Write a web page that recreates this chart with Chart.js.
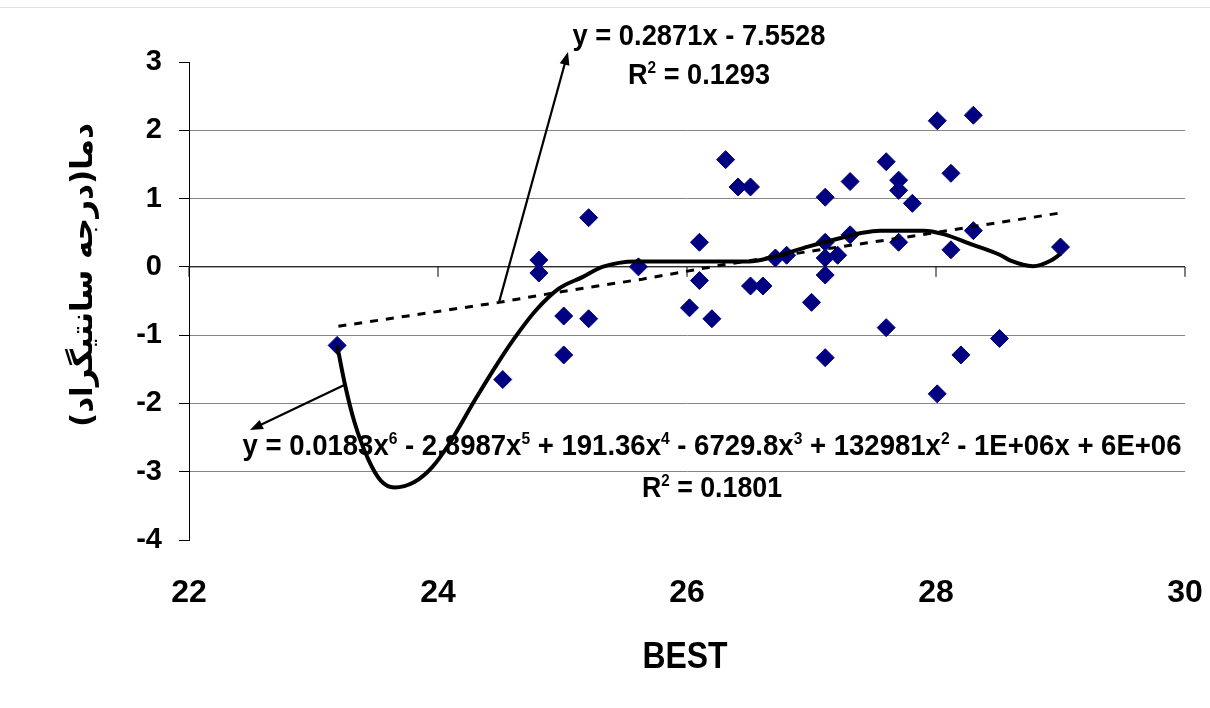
<!DOCTYPE html>
<html>
<head>
<meta charset="utf-8">
<script src="https://cdn.jsdelivr.net/npm/chart.js@4"></script>
<style>
  html, body { margin: 0; padding: 0; background: #fff; }
  #wrap { position: relative; width: 1210px; height: 708px; }
  #topRule { position: absolute; left: 0; top: 7px; width: 1210px; height: 1px; background: #e2e2e2; }
</style>
</head>
<body>
<div id="wrap">
  <div id="topRule"></div>
  <canvas id="chart"></canvas>
</div>
<script>
// scatter values
const bestX = [23.19, 24.52, 24.81, 24.81, 25.01, 25.01, 25.21, 25.21, 25.61, 26.02, 26.10, 26.10,
  26.20, 26.31, 26.41, 26.51, 26.51, 26.61, 26.71, 26.80, 27.00, 27.11, 27.11, 27.11, 27.11, 27.11,
  27.21, 27.31, 27.31, 27.60, 27.60, 27.70, 27.70, 27.70, 27.81, 28.01, 28.01, 28.12, 28.12, 28.20,
  28.30, 28.30, 28.51, 29.00];
const tempY = [-1.15, -1.65, 0.10, -0.09, -0.72, -1.29, 0.72, -0.76, 0.00, -0.60, 0.36, -0.20,
  -0.76, 1.57, 1.17, 1.17, -0.28, -0.28, 0.13, 0.17, -0.52, 1.02, 0.36, 0.13, -0.12, -1.33,
  0.17, 1.25, 0.47, 1.54, -0.89, 1.27, 1.12, 0.36, 0.93, 2.14, -1.86, 1.37, 0.25, -1.29,
  2.22, 0.53, -1.05, 0.29];

// linear trendline (dotted)
const linTrendX = [23.2, 24.49, 25.0, 25.64, 26.29, 27.03, 27.74, 28.27, 29.0];
const linTrendY = [-0.87, -0.52, -0.36, -0.18, 0.03, 0.24, 0.43, 0.58, 0.79];

// 6th order polynomial trendline (solid)
const polyTrendX = [23.19, 23.25, 23.33, 23.44, 23.54, 23.65, 23.81, 23.95, 24.08, 24.30, 24.48,
  24.62, 24.78, 24.97, 25.16, 25.32, 25.59, 25.96, 26.50, 26.66, 26.98, 27.25, 27.41, 27.55,
  27.90, 28.06, 28.27, 28.52, 28.60, 28.78, 28.92, 29.00];
const polyTrendY = [-1.15, -1.70, -2.28, -2.82, -3.13, -3.23, -3.15, -2.94, -2.62, -1.94, -1.41,
  -1.03, -0.65, -0.32, -0.15, 0.00, 0.08, 0.08, 0.08, 0.13, 0.30, 0.43, 0.50, 0.53,
  0.53, 0.48, 0.34, 0.17, 0.09, 0.01, 0.09, 0.19];

const xTicks = [22, 24, 26, 28, 30];
const yTicks = [3, 2, 1, 0, -1, -2, -3, -4];

const xTitle = "BEST";
const yTitle = "دما(درجه سانتیگراد)";
const linEquation = [["y = 0.2871x - 7.5528", 0]];
const linR2 = [["R", 0], ["2", 1], [" = 0.1293", 0]];
const polyEquation = [["y = 0.0183x", 0], ["6", 1], [" - 2.8987x", 0], ["5", 1], [" + 191.36x", 0], ["4", 1],
  [" - 6729.8x", 0], ["3", 1], [" + 132981x", 0], ["2", 1], [" - 1E+06x + 6E+06", 0]];
const polyR2 = [["R", 0], ["2", 1], [" = 0.1801", 0]];

const toPoints = (xs, ys) => xs.map((x, i) => ({ x: x, y: ys[i] }));
const FONT = '"Liberation Sans", Arial, sans-serif';

function drawRich(ctx, parts, cx, baseline, size, width) {
  ctx.save();
  const font = (sup) => `bold ${sup ? Math.round(size * 0.58) : size}px ${FONT}`;
  let total = 0;
  parts.forEach(([t, sup]) => { ctx.font = font(sup); total += ctx.measureText(t).width; });
  const sx = width / total;
  ctx.translate(cx, baseline);
  ctx.scale(sx, 1);
  ctx.fillStyle = "#000";
  ctx.textAlign = "left";
  ctx.textBaseline = "alphabetic";
  let x = -total / 2;
  parts.forEach(([t, sup]) => {
    ctx.font = font(sup);
    ctx.fillText(t, x, sup ? -size * 0.36 : 0);
    x += ctx.measureText(t).width;
  });
  ctx.restore();
}

function drawArrow(ctx, x1, y1, x2, y2) {
  const a = Math.atan2(y2 - y1, x2 - x1);
  ctx.save();
  ctx.strokeStyle = "#000";
  ctx.fillStyle = "#000";
  ctx.lineWidth = 2.2;
  ctx.beginPath();
  ctx.moveTo(x1, y1);
  ctx.lineTo(x2 - Math.cos(a) * 8, y2 - Math.sin(a) * 8);
  ctx.stroke();
  ctx.beginPath();
  ctx.moveTo(x2, y2);
  ctx.lineTo(x2 - Math.cos(a) * 13 + Math.sin(a) * 5, y2 - Math.sin(a) * 13 - Math.cos(a) * 5);
  ctx.lineTo(x2 - Math.cos(a) * 13 - Math.sin(a) * 5, y2 - Math.sin(a) * 13 + Math.cos(a) * 5);
  ctx.closePath();
  ctx.fill();
  ctx.restore();
}

// x axis crossing at y = 0, trendline labels, arrows, axis titles
const overlay = {
  id: "overlay",
  beforeDatasetsDraw(chart) {
    const { ctx, scales: { x, y }, chartArea } = chart;
    const y0 = y.getPixelForValue(0);
    ctx.save();
    ctx.strokeStyle = "#000";
    ctx.lineWidth = 1;
    ctx.beginPath();
    ctx.moveTo(chartArea.left, y0);
    ctx.lineTo(chartArea.right, y0);
    xTicks.forEach((v) => {
      const px = x.getPixelForValue(v);
      ctx.moveTo(px, y0);
      ctx.lineTo(px, y0 + 10);
    });
    ctx.stroke();
    ctx.restore();

    drawRich(ctx, linEquation, 699, 45, 30, 253);
    drawRich(ctx, linR2, 699, 84, 30, 142);
    drawRich(ctx, polyEquation, 712, 455, 30, 939);
    drawRich(ctx, polyR2, 712, 497, 30, 140);

    drawArrow(ctx, x.getPixelForValue(24.49), y.getPixelForValue(-0.52), 568, 52);
    drawArrow(ctx, x.getPixelForValue(23.26), y.getPixelForValue(-1.72), 250, 430);
  },
  afterDraw(chart) {
    const { ctx } = chart;
    drawRich(ctx, [[xTitle, 0]], 685, 668, 36, 85);

    ctx.save();
    ctx.translate(84, 275);
    ctx.rotate(-Math.PI / 2);
    ctx.font = `bold 30px "DejaVu Sans", ${FONT}`;
    ctx.direction = "rtl";
    const w = ctx.measureText(yTitle).width;
    ctx.scale(304 / w, 1);
    ctx.fillStyle = "#000";
    ctx.textAlign = "center";
    ctx.textBaseline = "middle";
    ctx.fillText(yTitle, 0, 0);
    ctx.restore();
  }
};

new Chart(document.getElementById("chart"), {
  type: "scatter",
  data: {
    datasets: [
      {
        data: toPoints(polyTrendX, polyTrendY),
        showLine: true,
        borderColor: "#000",
        borderWidth: 4,
        pointRadius: 0,
        cubicInterpolationMode: "monotone",
        order: 0
      },
      {
        data: toPoints(linTrendX, linTrendY),
        showLine: true,
        borderColor: "#000",
        borderWidth: 3,
        borderDash: [8, 8],
        pointRadius: 0,
        order: 1
      },
      {
        data: toPoints(bestX, tempY),
        pointStyle: "rectRot",
        pointRadius: 9,
        pointBackgroundColor: "#000080",
        pointBorderColor: "#000080",
        pointBorderWidth: 1,
        order: 2
      }
    ]
  },
  options: {
    responsive: true,
    maintainAspectRatio: false,
    animation: false,
    layout: { padding: { left: 0, right: 25, top: 62, bottom: 0 } },
    plugins: { legend: { display: false }, tooltip: { enabled: false } },
    scales: {
      x: {
        type: "linear",
        min: xTicks[0],
        max: xTicks[xTicks.length - 1],
        afterBuildTicks: (axis) => { axis.ticks = xTicks.map((v) => ({ value: v })); },
        afterFit: (axis) => { axis.height = 168; axis.paddingLeft = 0; axis.paddingRight = 0; },
        grid: { display: false },
        border: { display: false },
        ticks: { color: "#000", padding: 26, font: { family: FONT, size: 32, weight: "bold" } }
      },
      y: {
        min: yTicks[yTicks.length - 1],
        max: yTicks[0],
        afterBuildTicks: (axis) => { axis.ticks = yTicks.map((v) => ({ value: v })); },
        afterFit: (axis) => { axis.width = 189; },
        grid: {
          color: (c) => (c.tick && (c.tick.value === 3 || c.tick.value === -4)) ? "rgba(0,0,0,0)" : "#858585",
          tickColor: "#000",
          tickLength: 10,
          lineWidth: 1
        },
        border: { display: true, color: "#000", width: 1 },
        ticks: { color: "#000", padding: 17, font: { family: FONT, size: 29, weight: "bold" } }
      }
    }
  },
  plugins: [overlay]
});
</script>
</body>
</html>
